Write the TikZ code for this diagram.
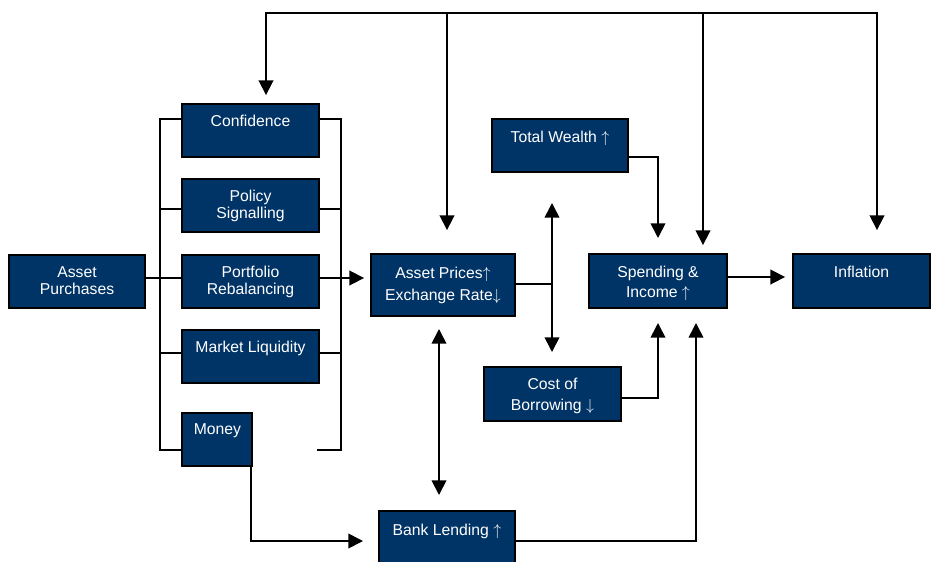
\documentclass[tikz,border=0pt]{standalone}
\usepackage{fontspec}
\setmainfont{Liberation Sans}
\usetikzlibrary{arrows.meta}
\definecolor{boxblue}{RGB}{0,51,102}
\newcommand\upar{$\uparrow$}
\newcommand\dnar{$\downarrow$}
\begin{document}
\begin{tikzpicture}[x=0.75pt,y=-0.75pt,
  box/.style={draw=black, line width=1.4pt, fill=boxblue, rectangle, inner sep=0pt},
  lbl/.style={text=white, font=\fontsize{11.8}{14}\selectfont, inner sep=0pt, anchor=base},
  line/.style={draw=black, line width=1.3pt},
  wire/.style={line, line cap=rect},
  arr/.style={line, -{Triangle[length=11pt,width=11pt]}},
  darr/.style={line, {Triangle[length=11pt,width=11pt]}-{Triangle[length=11pt,width=11pt]}}
]
\useasboundingbox (0,0) rectangle (931,561);

% boxes
\node[box, minimum width={136*0.75pt}, minimum height={53*0.75pt}] (ap) at (77,281.5) {};
\node[box, minimum width={137*0.75pt}, minimum height={53*0.75pt}] (conf) at (250.5,130.5) {};
\node[box, minimum width={137*0.75pt}, minimum height={53*0.75pt}] (pol) at (250.5,205.5) {};
\node[box, minimum width={137*0.75pt}, minimum height={53*0.75pt}] (port) at (250.5,281.5) {};
\node[box, minimum width={137*0.75pt}, minimum height={53*0.75pt}] (mkt) at (250.5,356.5) {};
\node[box, minimum width={70*0.75pt}, minimum height={53*0.75pt}] (money) at (217,439.5) {};
\node[box, minimum width={144*0.75pt}, minimum height={62*0.75pt}] (aprice) at (443,285) {};
\node[box, minimum width={136*0.75pt}, minimum height={53*0.75pt}] (tw) at (560,145.5) {};
\node[box, minimum width={137*0.75pt}, minimum height={54*0.75pt}] (cb) at (552.5,394) {};
\node[box, minimum width={138*0.75pt}, minimum height={54*0.75pt}] (spend) at (658,281) {};
\node[box, minimum width={137*0.75pt}, minimum height={54*0.75pt}] (infl) at (861.5,281) {};
\node[box, minimum width={136*0.75pt}, minimum height={54*0.75pt}] (bank) at (447,538) {};

% texts
\node[lbl] (apT1) at (77,277) {Asset};
\node[lbl] (apT2) at (77,294) {Purchases};
\node[lbl] (confT) at (250.5,126) {Confidence};
\node[lbl] (polT1) at (250.5,201) {Policy};
\node[lbl] (polT2) at (250.5,218) {Signalling};
\node[lbl] (portT1) at (250.5,277) {Portfolio};
\node[lbl] (portT2) at (250.5,294) {Rebalancing};
\node[lbl] (mktT) at (250.5,352) {Market Liquidity};
\node[lbl] (moneyT) at (217.5,434) {Money};
\node[lbl] (apriceT1) at (443,278) {Asset Prices\upar};
\node[lbl] (apriceT2) at (443,300) {Exchange Rate\dnar};
\node[lbl] (twT) at (560,142) {Total Wealth \upar};
\node[lbl] (cbT1) at (552.5,389) {Cost of};
\node[lbl] (cbT2) at (552.5,410) {Borrowing \dnar};
\node[lbl] (spendT1) at (658,277) {Spending \&};
\node[lbl] (spendT2) at (658,297) {Income \upar};
\node[lbl] (inflT) at (861.5,277) {Inflation};
\node[lbl] (bankT) at (447,535) {Bank Lending \upar};

% coordinates
\coordinate (lb1) at (160,119);
\coordinate (lb2) at (160,209);
\coordinate (lb3) at (160,278);
\coordinate (lb4) at (160,353);
\coordinate (lb5) at (160,450);
\coordinate (rb1) at (341,119);
\coordinate (rb2) at (341,209);
\coordinate (rb3) at (341,278);
\coordinate (rb4) at (341,353);
\coordinate (rb5) at (341,450);
\coordinate (rbEnd) at (318,450);
\coordinate (t1) at (266,13);
\coordinate (t2) at (447,13);
\coordinate (t3) at (703,13);
\coordinate (t4) at (877,13);
\coordinate (ve) at (552,284);
\coordinate (veTop) at (552,203);
\coordinate (veBot) at (552,352);
\coordinate (blTop) at (439,329);
\coordinate (blBot) at (439,495);
\coordinate (spIn1) at (658,238);
\coordinate (spIn2) at (658,323);
\coordinate (spIn3) at (696,323);
\coordinate (bankIn) at (363,541);

% left bracket
\draw[wire] (lb1 -| conf.west) -- (lb1) -- (lb5) -- (lb5 -| money.west);
\draw[wire] (lb2) -- (lb2 -| pol.west);
\draw[wire] (lb3 -| ap.east) -- (lb3 -| port.west);
\draw[wire] (lb4) -- (lb4 -| mkt.west);
% right bracket
\draw[wire] (rb1 -| conf.east) -- (rb1) -- (rb5) -- (rbEnd);
\draw[wire] (rb2 -| pol.east) -- (rb2);
\draw[wire] (rb3 -| port.east) -- (rb3);
\draw[wire] (rb4 -| mkt.east) -- (rb4);
\draw[arr, shorten >=4.5pt] (rb3) -- (rb3 -| aprice.west);

% top loop
\draw[wire] (t1) -- (t4);
\draw[arr, shorten >=6pt] (t1) -- (t1 |- conf.north);
\draw[arr, shorten >=17.25pt] (t2) -- (t2 |- aprice.north);
\draw[arr, shorten >=6pt] (t3) -- (t3 |- spend.north);
\draw[arr, shorten >=17.25pt] (t4) -- (t4 |- infl.north);

% asset prices to wealth / borrowing
\draw[wire] (ve -| aprice.east) -- (ve);
\draw[darr] (veTop) -- (veBot);
% asset prices <-> bank lending
\draw[darr] (blTop) -- (blBot);

% into spending
\draw[arr] (tw.east |- 0,157) -| (spIn1);
\draw[arr] (cb.east |- 0,398) -| (spIn2);
\draw[arr] (bank.east |- 0,541) -| (spIn3);
\draw[arr, shorten >=5.25pt] (spend.east |- 0,277) -- (infl.west |- 0,277);

% money to bank lending
\draw[arr] (money.south -| 251,0) |- (bankIn);
\end{tikzpicture}
\end{document}
